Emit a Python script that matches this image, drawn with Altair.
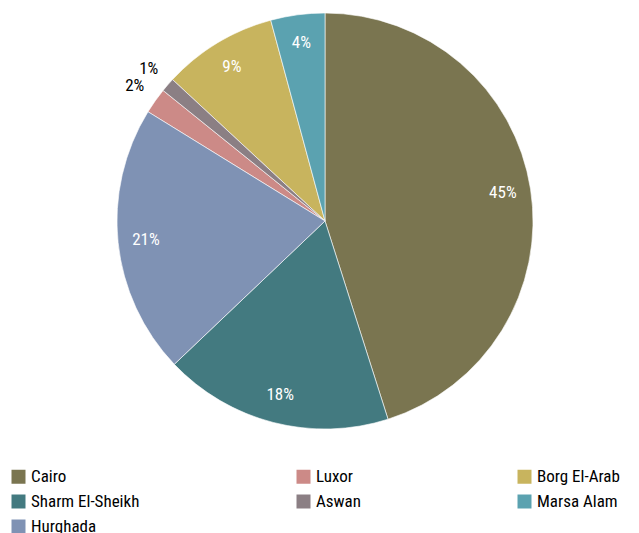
import altair as alt
import pandas as pd

# rows listed in legend order; slice_order gives the clockwise order in the pie
airports = ["Cairo", "Luxor", "Borg El-Arab", "Sharm El-Sheikh", "Aswan", "Marsa Alam", "Hurghada"]
shares = [45.1, 2.0, 8.9, 17.8, 1.1, 4.2, 20.9]
slice_order = [1, 4, 6, 2, 5, 7, 3]
colors = ["#7A7550", "#CC8A87", "#C8B45E", "#437A80", "#8B7F84", "#5BA2B0", "#7F92B4"]

df = pd.DataFrame({"airport": airports, "value": shares, "idx": slice_order})

FONT = "Liberation Sans Narrow, Roboto Condensed, Arial Narrow, sans-serif"

theta_scale = alt.Scale(domain=[0, 1])

base = (
    alt.Chart(df)
    .transform_joinaggregate(total="sum(value)")
    .transform_window(cum="sum(value)", sort=[alt.SortField("idx")], frame=[None, 0])
    .transform_calculate(
        start="(datum.cum - datum.value) / datum.total",
        end="datum.cum / datum.total",
        mid="(datum.cum - datum.value / 2) / datum.total",
        label="format(round(datum.value), 'd') + '%'",
    )
)

arcs = base.mark_arc(radius=208, stroke="white", strokeWidth=0.6).encode(
    theta=alt.Theta("start:Q", scale=theta_scale, stack=None),
    theta2="end:Q",
    color=alt.Color(
        "airport:N",
        scale=alt.Scale(domain=airports, range=colors),
        legend=alt.Legend(
            title=None,
            orient="none",
            direction="horizontal",
            legendX=-9,
            legendY=460,
            columns=3,
            gridAlign="each",
            columnPadding=155,
            rowPadding=7,
            symbolType="square",
            symbolSize=196,
            symbolStrokeWidth=0,
            symbolOffset=0,
            labelFont=FONT,
            labelFontSize=17,
            labelColor="#000000",
            labelOffset=4,
            labelLimit=300,
        ),
    ),
)

inside = base.mark_text(radius=180, font=FONT, fontSize=17, color="white").encode(
    theta=alt.Theta("mid:Q", scale=theta_scale, stack=None),
    text="label:N",
    opacity=alt.condition("datum.value >= 3", alt.value(1), alt.value(0)),
)

outside = base.mark_text(radius=233, font=FONT, fontSize=17, color="black").encode(
    theta=alt.Theta("mid:Q", scale=theta_scale, stack=None),
    text="label:N",
    opacity=alt.condition("datum.value < 3", alt.value(1), alt.value(0)),
)

chart = alt.layer(arcs, inside, outside).properties(
    width=612,
    height=426,
    padding={"left": 11, "top": 0, "right": 0, "bottom": 99},
    autosize=alt.AutoSizeParams(type="none"),
).configure_view(stroke=None)

chart.save("out.html", embed_options={"renderer": "svg", "actions": False})
